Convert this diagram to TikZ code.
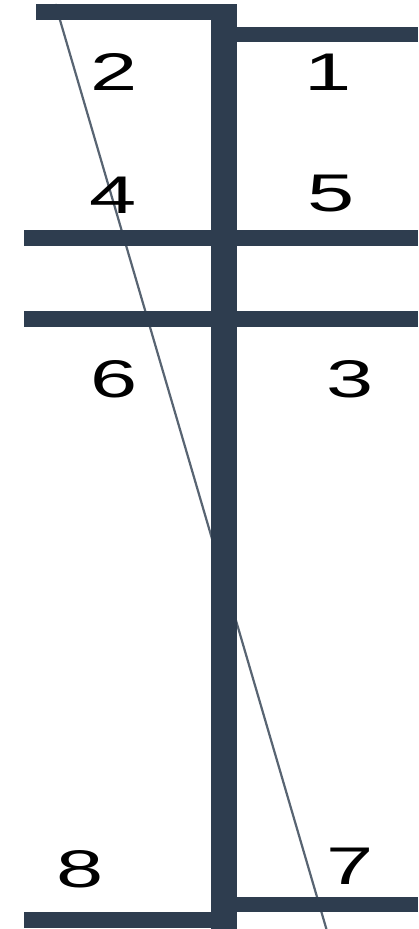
\documentclass[tikz,border=0pt]{standalone}
\usepackage{fontspec}
\usepackage{graphicx}
\setmainfont{Liberation Sans}
\definecolor{barc}{RGB}{46,61,79}
\newcommand{\wdig}[1]{\scalebox{1.6}[1]{#1}}
\begin{document}
\begin{tikzpicture}[x=1pt,y=-1pt,
  bar/.style={fill=barc},
  lbl/.style={font=\fontsize{53}{53}\selectfont, text=black, inner sep=0pt}]
\useasboundingbox (0,0) rectangle (418,929);
% diagonal line (behind bars)
\coordinate (dtop) at (55.3,4);
\coordinate (dbot) at (326.4,929);
\draw[barc!80!white, line width=2.2pt] (dtop) -- (dbot);
% vertical bar
\fill[bar] (211,4) rectangle (237,929);
% horizontal bars
\fill[bar] (36,4) rectangle (237,20);
\fill[bar] (237,27) rectangle (418,42);
\fill[bar] (24,230) rectangle (418,246);
\fill[bar] (24,311) rectangle (418,327);
\fill[bar] (24,912) rectangle (237,928);
\fill[bar] (237,897) rectangle (418,912);
% labels
\node[lbl] (n2) at (114,72) {\wdig{2}};
\node[lbl] (n1) at (328,72) {\wdig{1}};
\node[lbl] (n4) at (113,195) {\wdig{4}};
\node[lbl] (n5) at (331,194) {\wdig{5}};
\node[lbl] (n6) at (114,379) {\wdig{6}};
\node[lbl] (n3) at (350,379) {\wdig{3}};
\node[lbl] (n8) at (80,869) {\wdig{8}};
\node[lbl] (n7) at (350,866) {\wdig{7}};
\end{tikzpicture}
\end{document}
